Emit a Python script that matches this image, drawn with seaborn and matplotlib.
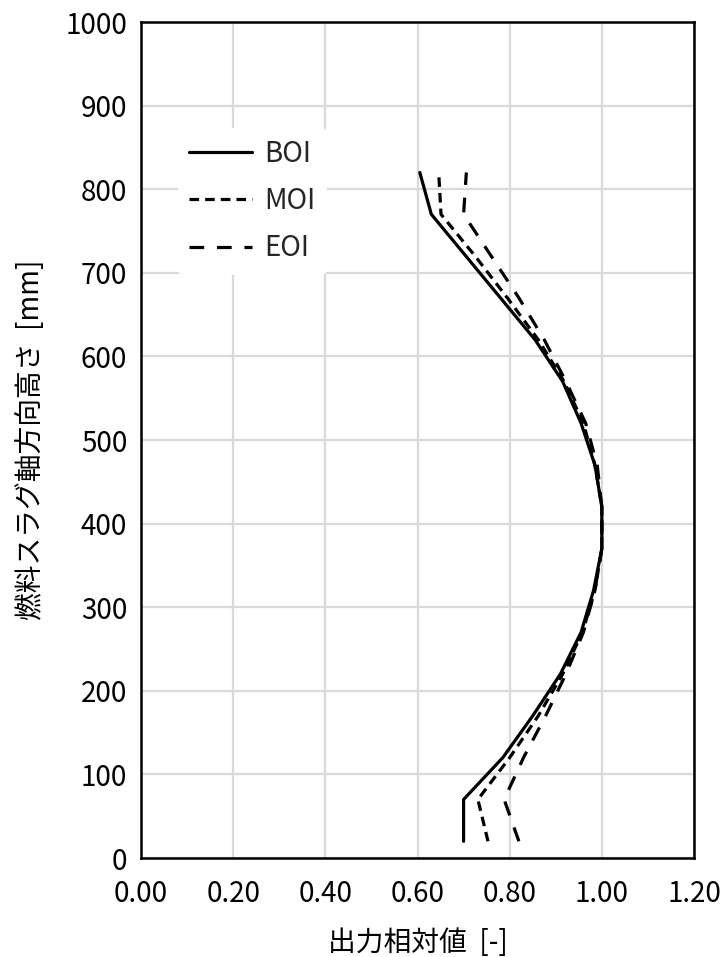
import matplotlib
matplotlib.use("Agg")
import matplotlib.pyplot as plt
import seaborn as sns
import pandas as pd

# Axial height [mm]
heights = [20, 70, 120, 170, 220, 270, 320, 370, 420, 470, 520, 570, 620, 670, 720, 770, 820]

# Relative power [-]
boi = [0.700, 0.700, 0.785, 0.850, 0.910, 0.955, 0.982, 1.000, 1.000, 0.985, 0.955, 0.915, 0.855, 0.780, 0.705, 0.630, 0.605]
moi = [0.753, 0.731, 0.800, 0.862, 0.915, 0.958, 0.985, 1.000, 1.000, 0.985, 0.960, 0.918, 0.862, 0.795, 0.725, 0.651, 0.646]
eoi = [0.820, 0.788, 0.830, 0.878, 0.922, 0.960, 0.985, 1.000, 1.000, 0.990, 0.965, 0.922, 0.875, 0.820, 0.760, 0.700, 0.706]

series_names = ["BOI", "MOI", "EOI"]
x_ticks = [0.0, 0.2, 0.4, 0.6, 0.8, 1.0, 1.2]
y_ticks = list(range(0, 1001, 100))

x_label = "出力相対値  [-]"
y_label = "燃料スラグ軸方向高さ  [mm]"

rows = []
for name, vals in zip(series_names, [boi, moi, eoi]):
    for h, v in zip(heights, vals):
        rows.append({"state": name, "height": h, "power": v})
df = pd.DataFrame(rows)

sns.set_theme(style="white")
plt.rcParams["font.family"] = ["Noto Sans CJK JP", "DejaVu Sans"]

fig = plt.figure(figsize=(7.2, 9.57), dpi=100)
ax = fig.add_axes([141 / 720, 1 - 858 / 957, (694 - 141) / 720, (858 - 22) / 957])

sns.lineplot(
    data=df, x="power", y="height", hue="state", style="state",
    hue_order=series_names, style_order=series_names,
    palette={"BOI": "black", "MOI": "black", "EOI": "black"},
    dashes={"BOI": "", "MOI": (3.0, 1.9), "EOI": (4.6, 4.0)},
    sort=False, estimator=None, orient="y", linewidth=2.3, ax=ax,
)

ax.set_xlim(0, 1.2)
ax.set_ylim(0, 1000)
ax.set_xticks(x_ticks)
ax.set_xticklabels([f"{t:.2f}" for t in x_ticks])
ax.set_yticks(y_ticks)
ax.grid(True, color="#d9d9d9", linewidth=1.6)
ax.set_axisbelow(True)
for sp in ax.spines.values():
    sp.set_color("black")
    sp.set_linewidth(1.8)
ax.tick_params(axis="both", length=0, labelsize=20, colors="black")
ax.tick_params(axis="x", pad=15)
ax.tick_params(axis="y", pad=10)
ax.set_xlabel(x_label, fontsize=20, color="black", labelpad=14)
ax.set_ylabel(y_label, fontsize=20, color="black", labelpad=14)

leg = ax.legend(
    loc="upper left", bbox_to_anchor=(0.042, 0.89), frameon=True,
    facecolor="white", edgecolor="none", framealpha=1, fontsize=20,
    handlelength=2.25, handletextpad=0.45, labelspacing=0.62, title=None,
)
for line in leg.get_lines():
    line.set_linewidth(2.3)

fig.savefig("out.png", dpi=100)
